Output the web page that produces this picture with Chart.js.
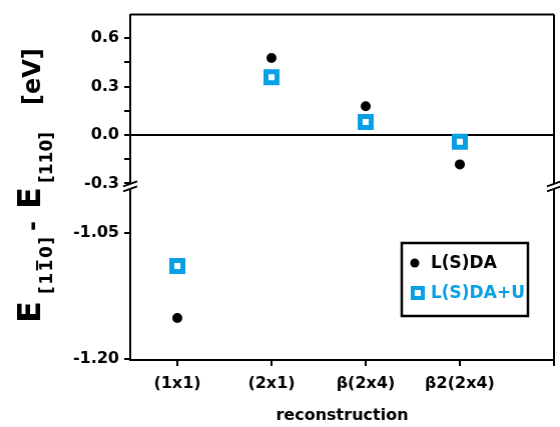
<!DOCTYPE html>
<html>
<head>
<meta charset="utf-8">
<script src="https://cdn.jsdelivr.net/npm/chart.js@4"></script>
<style>
  html, body { margin: 0; background: #fff; overflow: hidden; }
  #wrap { width: 560px; height: 427px; position: relative; }
</style>
</head>
<body>
<div id="wrap"><canvas id="energyChart"></canvas></div>
<script>
// reconstruction categories and energy differences (eV)
const categories = ['(1x1)', '(2x1)', 'β(2x4)', 'β2(2x4)'];
const ldaValues = [-1.151, 0.478, 0.179, -0.182];
const ldauValues = [-1.089, 0.359, 0.081, -0.041];

// broken y axis: upper and lower segments
const upperRange = [-0.318, 0.747];
const lowerRange = [-1.201, -0.994];
const upperTicks = [-0.3, -0.15, 0, 0.15, 0.3, 0.45, 0.6];
const upperLabels = ['-0.3', '', '0.0', '', '0.3', '', '0.6'];
const lowerTicks = [-1.2, -1.05];
const lowerLabels = ['-1.20', '-1.05'];
const xTicks = [0, 1, 2, 3, 4];

const blue = '#08a0e4';
const breakValue = -0.6;
const targetRight = 553;

// split a series into upper / lower segment points
function pointsFor(values, upper) {
  const pts = [];
  values.forEach((v, i) => {
    if ((v > breakValue) === upper) pts.push({ x: i, y: v });
  });
  return pts;
}

const ldaStyle = { pointStyle: 'circle', pointRadius: 5, backgroundColor: '#000', borderColor: '#000', borderWidth: 0 };
const ldauStyle = { pointStyle: 'rect', pointRadius: 7.8, backgroundColor: '#fff', borderColor: blue, borderWidth: 5 };

Chart.defaults.font.family = "'DejaVu Sans', sans-serif";
Chart.defaults.font.weight = 'bold';
Chart.defaults.color = '#000';

const frameAndExtras = {
  id: 'frameAndExtras',
  afterDraw(chart) {
    const ctx = chart.ctx;
    const area = chart.chartArea;
    const yUp = chart.scales.yUp;
    const by = yUp.bottom;
    ctx.save();
    ctx.strokeStyle = '#000';
    ctx.lineWidth = 2;
    ctx.beginPath();
    ctx.moveTo(area.left, area.top);
    ctx.lineTo(area.right, area.top);
    ctx.moveTo(area.right, area.top);
    ctx.lineTo(area.right, area.bottom + 6);
    ctx.stroke();

    // axis break marks
    [area.left, area.right].forEach(x => {
      ctx.fillStyle = '#fff';
      ctx.beginPath();
      ctx.moveTo(x - 7, by);
      ctx.lineTo(x + 7, by - 5);
      ctx.lineTo(x + 7, by + 0);
      ctx.lineTo(x - 7, by + 5);
      ctx.closePath();
      ctx.fill();
      ctx.lineWidth = 1.8;
      ctx.beginPath();
      ctx.moveTo(x - 7, by);
      ctx.lineTo(x + 7, by - 5);
      ctx.moveTo(x - 7, by + 5);
      ctx.lineTo(x + 7, by);
      ctx.stroke();
    });

    // legend box
    ctx.lineWidth = 2.5;
    ctx.strokeRect(401, 243, 126, 73);
    ctx.fillStyle = ldaStyle.backgroundColor;
    ctx.beginPath();
    ctx.arc(414, 263, 4.5, 0, Math.PI * 2);
    ctx.fill();
    ctx.strokeStyle = blue;
    ctx.lineWidth = 4;
    ctx.strokeRect(412, 288, 10, 10);
    ctx.font = "bold 17px 'DejaVu Sans'";
    ctx.textBaseline = 'middle';
    ctx.textAlign = 'left';
    ctx.fillStyle = '#000';
    ctx.fillText('L(S)DA', 430, 264);
    ctx.fillStyle = blue;
    ctx.fillText('L(S)DA+U', 430, 294);

    // rotated y axis title: E[1-10] - E[110]  [eV]
    ctx.translate(40, 323);
    ctx.rotate(-Math.PI / 2);
    ctx.fillStyle = '#000';
    ctx.textBaseline = 'alphabetic';
    const big = "bold 32px 'DejaVu Sans'";
    const sub = "bold 17px 'DejaVu Sans'";
    ctx.font = big;
    ctx.fillText('E', 0, 0);
    // subscript [1 1bar 0]
    ctx.font = sub;
    let u = 29;
    ['[', '1', '1', '0', ']'].forEach((c, i) => {
      ctx.fillText(c, u, 12);
      const w = ctx.measureText(c).width;
      if (i === 2) ctx.fillRect(u + 1, 12 - 16, w - 2, 2);
      u += w + 1.5;
    });
    ctx.font = "bold 24px 'DejaVu Sans'";
    ctx.fillText('-', 92, 0);
    ctx.font = big;
    ctx.fillText('E', 114, 0);
    ctx.font = sub;
    ctx.fillText('[110]', 140, 12);
    ctx.font = "bold 24px 'DejaVu Sans'";
    ctx.fillText('[eV]', 218, 0);
    ctx.restore();
  }
};

const axisCommon = {
  type: 'linear',
  position: 'left',
  stack: 'left',
  border: { color: '#000', width: 2 },
  ticks: { font: { size: 16, weight: 'bold' }, color: '#000', padding: 5, autoSkip: false }
};

const chart = new Chart(document.getElementById('energyChart'), {
  type: 'scatter',
  data: {
    datasets: [
      Object.assign({ label: 'L(S)DA', yAxisID: 'yUp', data: pointsFor(ldaValues, true) }, ldaStyle),
      Object.assign({ label: 'L(S)DA', yAxisID: 'yLow', data: pointsFor(ldaValues, false) }, ldaStyle),
      Object.assign({ label: 'L(S)DA+U', yAxisID: 'yUp', data: pointsFor(ldauValues, true) }, ldauStyle),
      Object.assign({ label: 'L(S)DA+U', yAxisID: 'yLow', data: pointsFor(ldauValues, false) }, ldauStyle)
    ]
  },
  options: {
    responsive: true,
    maintainAspectRatio: false,
    animation: false,
    events: [],
    layout: { padding: { top: 10, right: 7, left: 0, bottom: 0 } },
    plugins: { legend: { display: false }, tooltip: { enabled: false } },
    scales: {
      x: {
        type: 'linear',
        position: 'bottom',
        min: -0.5,
        max: 4,
        afterBuildTicks: s => { s.ticks = xTicks.map(v => ({ value: v })); },
        afterFit: s => { s.height = 67; s.paddingLeft = 0; s.paddingRight = 0; },
        ticks: {
          font: { size: 16, weight: 'bold' },
          color: '#000',
          padding: 8,
          maxRotation: 0,
          autoSkip: false,
          callback: v => categories[v] || ''
        },
        grid: { drawOnChartArea: false, tickLength: 6, color: '#000', lineWidth: 2 },
        border: { color: '#000', width: 2 },
        title: { display: true, text: 'reconstruction', font: { size: 16, weight: 'bold' }, color: '#000', padding: { top: 0, bottom: 2 } }
      },
      yLow: Object.assign({}, axisCommon, {
        stackWeight: 176,
        min: lowerRange[0],
        max: lowerRange[1],
        afterBuildTicks: s => { s.ticks = lowerTicks.map(v => ({ value: v })); },
        afterFit: s => { s.width = 130; },
        ticks: Object.assign({}, axisCommon.ticks, {
          callback: (v, i) => lowerLabels[i]
        }),
        grid: { drawOnChartArea: false, tickLength: 6, color: '#000', lineWidth: 2 }
      }),
      yUp: Object.assign({}, axisCommon, {
        stackWeight: 174,
        min: upperRange[0],
        max: upperRange[1],
        afterBuildTicks: s => { s.ticks = upperTicks.map(v => ({ value: v })); },
        afterFit: s => { s.width = 130; },
        ticks: Object.assign({}, axisCommon.ticks, {
          callback: (v, i) => upperLabels[i]
        }),
        grid: {
          drawOnChartArea: true,
          tickLength: 6,
          tickColor: '#000',
          tickWidth: 2,
          color: c => (c.tick && c.tick.value === 0 ? '#000' : 'rgba(0,0,0,0)'),
          lineWidth: 2
        }
      })
    }
  },
  plugins: [frameAndExtras]
});

// widen the canvas if the plot frame ends short of the reference right edge
const shortBy = targetRight - chart.chartArea.right;
if (Math.abs(shortBy) > 0.5) {
  const wrap = document.getElementById('wrap');
  wrap.style.width = (560 + shortBy) + 'px';
  chart.resize(560 + shortBy, 427);
}
</script>
</body>
</html>
